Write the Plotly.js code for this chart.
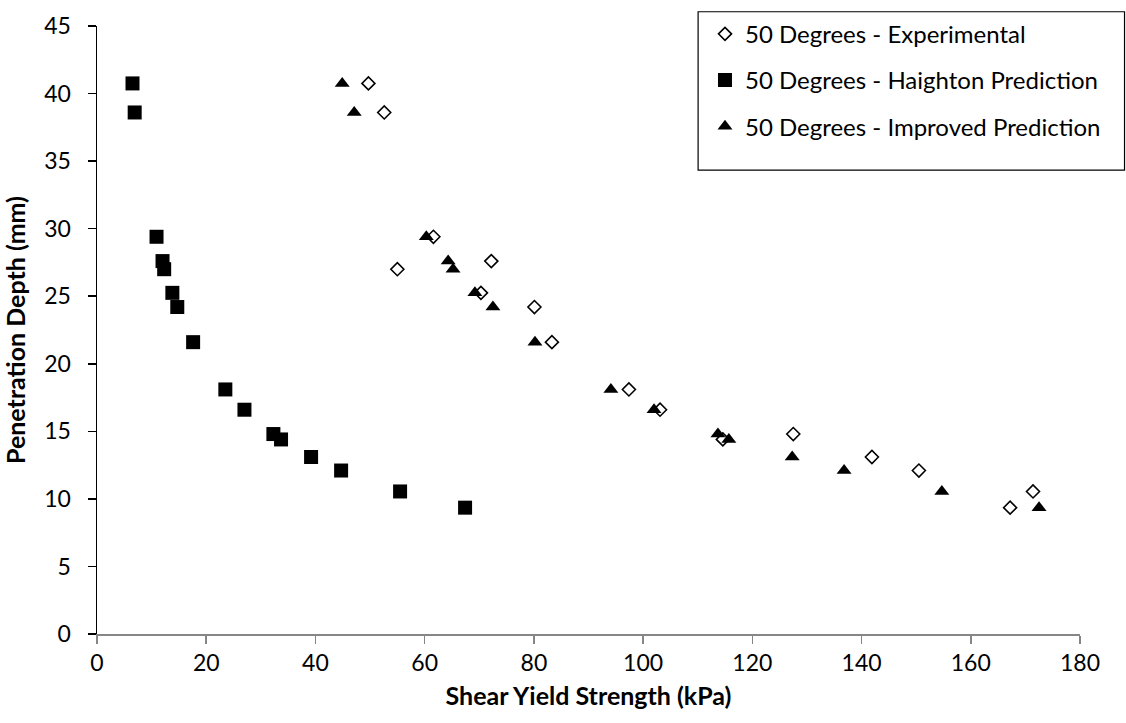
<!DOCTYPE html>
<html>
<head>
<meta charset="utf-8">
<script src="https://cdn.plot.ly/plotly-3.0.1.min.js"></script>
<style>
  html, body { margin: 0; padding: 0; background: #ffffff; }
  #chart { width: 1126px; height: 723px; }
</style>
</head>
<body>
<div id="chart"></div>
<script>
// Penetration depths (mm), shared by all three series
const depth = [40.75, 38.6, 29.4, 27.6, 27.0, 25.25, 24.2, 21.6, 18.1, 16.6, 14.8, 14.4, 13.1, 12.1, 10.55, 9.35];

// Shear yield strength (kPa) for each series
const experimental = [49.7, 52.6, 61.6, 72.2, 55.0, 70.3, 80.1, 83.3, 97.4, 103.1, 127.5, 114.6, 141.9, 150.5, 171.4, 167.2];
const haighton = [6.5, 6.9, 10.9, 12.0, 12.3, 13.8, 14.7, 17.6, 23.5, 27.0, 32.3, 33.7, 39.2, 44.7, 55.5, 67.4];
const improved = [44.9, 47.1, 60.3, 64.3, 65.2, 69.2, 72.5, 80.2, 94.1, 102.0, 113.7, 115.7, 127.3, 136.8, 154.7, 172.5];

const seriesNames = [
  '50 Degrees - Experimental',
  '50 Degrees - Haighton Prediction',
  '50 Degrees - Improved Prediction'
];

const FONT = 'Lato, "Open Sans", sans-serif';

const traces = [
  {
    x: experimental, y: depth, name: seriesNames[0], legendgroup: 'a',
    type: 'scatter', mode: 'markers',
    marker: { symbol: 'diamond', size: 10, color: '#ffffff', line: { color: '#000000', width: 1.6 } }
  },
  {
    x: haighton, y: depth, name: seriesNames[1], legendgroup: 'b',
    type: 'scatter', mode: 'markers',
    marker: { symbol: 'square', size: 14, color: '#000000', line: { width: 0 } }
  },
  {
    x: improved, y: depth, name: seriesNames[2], legendgroup: 'c',
    type: 'scatter', mode: 'markers',
    marker: { symbol: 'triangle-up', size: 13, color: '#000000', line: { width: 0 } }
  }
];

const layout = {
  width: 1126,
  height: 723,
  margin: { l: 97, r: 46, t: 23, b: 89 },
  paper_bgcolor: '#ffffff',
  plot_bgcolor: '#ffffff',
  font: { family: FONT, size: 23, color: '#000000' },
  showlegend: true,
  legend: {
    x: 0.6185, y: 1.0234, xanchor: 'left', yanchor: 'top',
    borderwidth: 0, bgcolor: 'rgba(0,0,0,0)',
    font: { family: FONT, size: 24, color: '#000000' },
    tracegroupgap: 12,
    itemclick: false
  },
  // frame around the legend
  shapes: [{
    type: 'rect', xref: 'paper', yref: 'paper', layer: 'above',
    x0: 0.6115, x1: 1.0453, y0: 0.763, y1: 1.0234,
    line: { color: '#000000', width: 1.2 }, fillcolor: 'rgba(0,0,0,0)'
  }],
  xaxis: {
    range: [0, 180],
    tick0: 0, dtick: 20,
    showgrid: false, zeroline: false,
    showline: true, linecolor: '#868686', linewidth: 1.5,
    ticks: 'outside', ticklen: 8, tickcolor: '#868686', tickwidth: 1.5,
    tickfont: { family: FONT, size: 23, color: '#000000' },
    title: { text: '<b>Shear Yield Strength (kPa)</b>', font: { family: FONT, size: 25, color: '#000000' }, standoff: 12 }
  },
  yaxis: {
    range: [0, 45],
    tick0: 0, dtick: 5,
    showgrid: false, zeroline: false,
    showline: true, linecolor: '#000000', linewidth: 1.5,
    ticks: 'outside', ticklen: 8, tickcolor: '#000000', tickwidth: 1.5,
    ticklabelstandoff: 12,
    tickfont: { family: FONT, size: 23, color: '#000000' },
    title: { text: '<b>Penetration Depth (mm)</b>', font: { family: FONT, size: 25, color: '#000000' }, standoff: 12 }
  }
};

Plotly.newPlot('chart', traces, layout, { displayModeBar: false, staticPlot: true });
</script>
</body>
</html>
